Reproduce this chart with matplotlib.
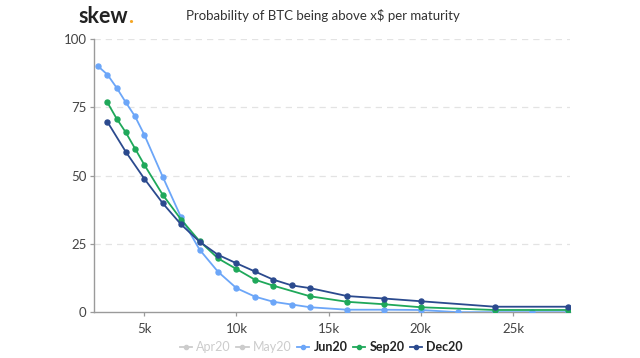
import matplotlib
matplotlib.use("Agg")
import matplotlib.pyplot as plt
from matplotlib.lines import Line2D
from matplotlib.ticker import FuncFormatter

plt.rcParams['font.family'] = ['Lato', 'DejaVu Sans']

jun_x = [2500, 3000, 3500, 4000, 4500, 5000, 6000, 7000, 8000, 9000, 10000, 11000, 12000,
         13000, 14000, 16000, 18000, 20000, 22000, 24000, 26000, 28000]
jun_y = [90, 87, 82.2, 76.8, 71.7, 65, 49.6, 34.7, 22.9, 14.8, 8.8, 5.7, 3.8,
         2.8, 1.8, 0.9, 0.9, 0.8, 0, 0, 0, 0]

sep_x = [3000, 3500, 4000, 4500, 5000, 6000, 7000, 8000, 9000, 10000, 11000, 12000,
         14000, 16000, 18000, 20000, 24000, 28000]
sep_y = [76.8, 70.9, 65.8, 59.9, 54, 43, 33.9, 26, 19.7, 15.8, 11.9, 9.7,
         5.8, 3.8, 2.9, 1.8, 0.8, 0.8]

dec_x = [3000, 4000, 5000, 6000, 7000, 8000, 9000, 10000, 11000, 12000, 13000, 14000,
         16000, 18000, 20000, 24000, 28000]
dec_y = [69.7, 58.7, 48.9, 39.9, 32.1, 25.8, 21, 17.9, 14.9, 11.9, 9.8, 8.8,
         5.9, 5, 4, 2, 2]

series = [("Jun20", jun_x, jun_y, "#6ca6f8"),
          ("Sep20", sep_x, sep_y, "#1fa85a"),
          ("Dec20", dec_x, dec_y, "#2b4a8e")]
hidden = ["Apr20", "May20"]

title = "Probability of BTC being above x$ per maturity"
yticks = [0, 25, 50, 75, 100]
xticks = [5000, 10000, 15000, 20000, 25000]

fig = plt.figure(figsize=(6.4, 3.58), dpi=100)
ax = fig.add_axes([0.147, 0.128, 0.744, 0.763])

for name, xs, ys, c in series:
    ax.plot(xs, ys, color=c, lw=1.3, marker='o', ms=3.6, label=name, zorder=3)

ax.set_xlim(2280, 28100)
ax.set_ylim(0, 100)
ax.set_yticks(yticks)
ax.set_xticks(xticks)
ax.xaxis.set_major_formatter(FuncFormatter(lambda v, p: f"{int(v/1000)}k"))
for y in yticks[1:]:
    ax.axhline(y, color="#e3e3e3", lw=0.9, ls=(0, (5, 4)), zorder=1)

for s in ['top', 'right']:
    ax.spines[s].set_visible(False)
for s in ['left', 'bottom']:
    ax.spines[s].set_color("#9a9a9a")
    ax.spines[s].set_linewidth(1.0)
ax.tick_params(axis='both', colors="#9a9a9a", labelcolor="#444444", labelsize=9.5, length=3, width=0.9)
ax.tick_params(axis='y', pad=2.5)
ax.tick_params(axis='x', pad=5)

handles = []
for h in hidden:
    handles.append(Line2D([], [], color="#cccccc", marker='o', ms=3, lw=1.3, label=h))
for name, xs, ys, c in series:
    handles.append(Line2D([], [], color=c, marker='o', ms=3, lw=1.3, label=name))
leg = fig.legend(handles=handles, loc='center', bbox_to_anchor=(0.502, 0.03), ncol=5,
                 frameon=False, fontsize=9, handlelength=1.0, handletextpad=0.35,
                 columnspacing=0.4)
for t, h in zip(leg.get_texts(), handles):
    if h.get_label() in hidden:
        t.set_color("#cccccc")
    else:
        t.set_color("#222222")
        t.set_fontweight('bold')

fig.text(0.505, 0.943, title, ha='center', va='baseline', fontsize=9.5, color="#333333")
logo = fig.text(0.122, 0.936, "skew", ha='left', va='baseline', fontsize=15.5,
                fontweight='bold', color="#222222")
fig.canvas.draw()
bb = logo.get_window_extent(renderer=fig.canvas.get_renderer())
fig.text(bb.x1 / fig.bbox.width + 0.0008, 0.936, ".", ha='left', va='baseline', fontsize=15.5,
         fontweight='bold', color="#f5a623")

fig.savefig("out.png", dpi=100)
